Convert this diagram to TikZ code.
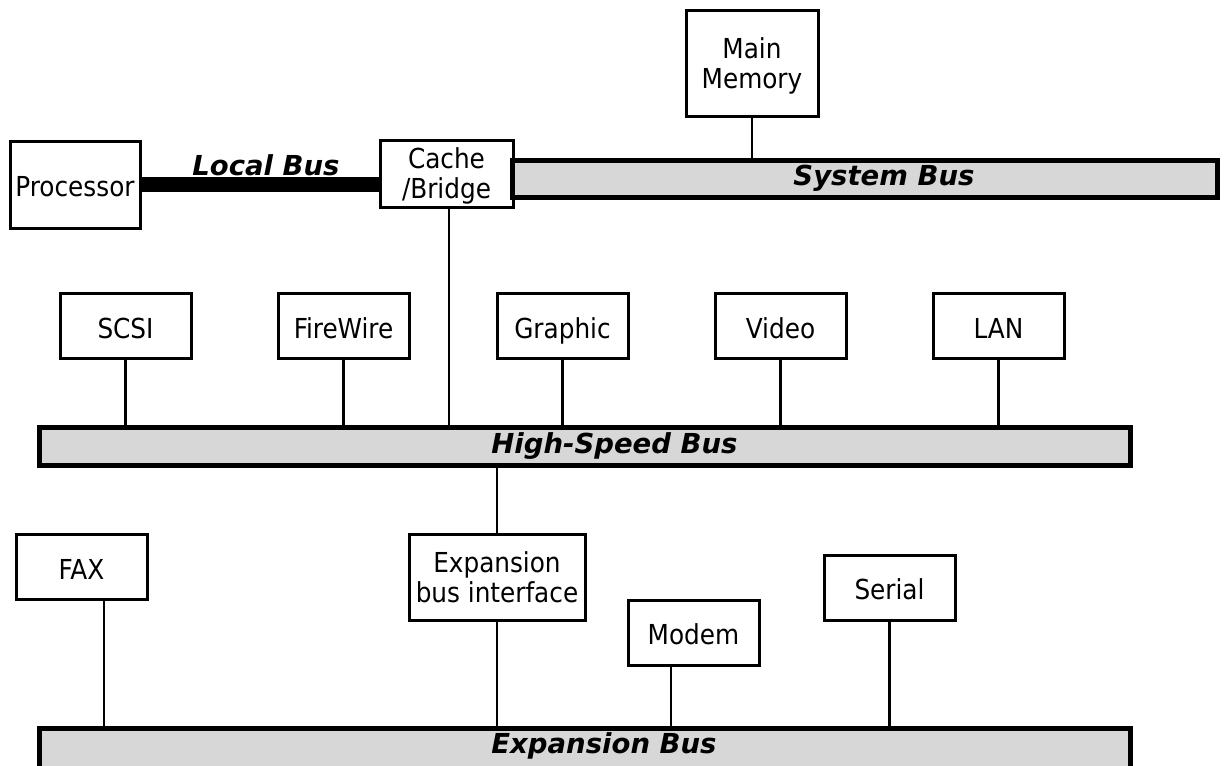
\documentclass[tikz,border=0pt]{standalone}
\usepackage{fontspec}
\setmainfont{DejaVu Sans}[
  BoldFont={DejaVu Sans Bold},
  ItalicFont={DejaVu Sans Oblique},
  BoldItalicFont={DejaVu Sans Bold Oblique}]
\newfontfamily\condfont{DejaVu Sans Condensed}
\definecolor{busgray}{HTML}{D7D7D7}
\tikzset{
  unit/.style={draw, line width=3pt, minimum width=131pt, minimum height=65pt,
    inner sep=0pt, align=center, font=\condfont\fontsize{27.5}{30}\selectfont},
  oneline/.style={text height=24pt, text depth=0pt},
  twoline/.style={text depth=0pt},
  bus/.style={draw, fill=busgray, line width=5pt, inner sep=0pt},
  buslabel/.style={font=\fontsize{27.5}{30}\selectfont\bfseries\itshape},
  wire/.style={line width=2.8pt},
  localbus/.style={line width=15pt},
}
\begin{document}
\begin{tikzpicture}[x=1pt,y=-1pt]
\useasboundingbox (0,0) rectangle (1227,766);
\clip (0,0) rectangle (1227,766);

% processor, cache and the system bus
\node[unit, oneline, minimum width=130pt, minimum height=87pt] (proc) at (75,184.5) {Processor};
\node[unit, twoline, minimum width=133pt, minimum height=67pt] (cache) at (446.5,173.5) {Cache\\/Bridge};
\node[unit, twoline, minimum width=132pt, minimum height=106pt] (mem) at (752,63) {Main\\Memory};
\node[bus, minimum width=705pt, minimum height=37pt] (sysbus) at (865,178.5) {};
\node[buslabel] (syslabel) at (884,178.5) {System Bus};
\draw[localbus] (proc.east) -- (proc.east -| cache.west);
\node[buslabel] (locallabel) at (266,165) {Local Bus};
\draw[wire] (mem.south) -- (mem.south |- sysbus.north);

% high-speed bus and its devices
\node[bus, minimum width=1091pt, minimum height=38pt] (hsbus) at (584.5,446.5) {};
\node[buslabel] (hslabel) at (614.5,446.5) {High-Speed Bus};
\draw[wire] ([xshift=2.5pt]cache.south) -- ([xshift=2.5pt]cache.south |- hsbus.north);

\node[unit, oneline] (scsi) at (125.5,326) {SCSI};
\node[unit, oneline] (fire) at (343.5,326) {FireWire};
\node[unit, oneline] (graph) at (562.5,326) {Graphic};
\node[unit, oneline] (video) at (780.5,326) {Video};
\node[unit, oneline] (lan) at (998.5,326) {LAN};
\foreach \d in {scsi,fire,graph,video,lan}
  \draw[wire] (\d.south) -- (\d.south |- hsbus.north);

% expansion bus and its devices
\node[bus, minimum width=1091pt, minimum height=44pt] (xbus) at (584.5,750.5) {};
\node[buslabel] (xlabel) at (604,746) {Expansion Bus};

\node[unit, minimum width=176pt, minimum height=86pt] (ebi) at (497,577) {Expansion\\bus interface};
\draw[wire] (hsbus.south -| ebi.north) -- (ebi.north);
\draw[wire] (ebi.south) -- (ebi.south |- xbus.north);

\node[unit, oneline] (fax) at (81.5,567) {FAX};
\node[unit, oneline] (modem) at (693.5,632.5) {Modem};
\node[unit, oneline] (serial) at (889.5,587.5) {Serial};
\draw[wire] ([xshift=22.5pt]fax.south) -- ([xshift=22.5pt]fax.south |- xbus.north);
\draw[wire] ([xshift=-22.5pt]modem.south) -- ([xshift=-22.5pt]modem.south |- xbus.north);
\draw[wire] (serial.south) -- (serial.south |- xbus.north);
\end{tikzpicture}
\end{document}
